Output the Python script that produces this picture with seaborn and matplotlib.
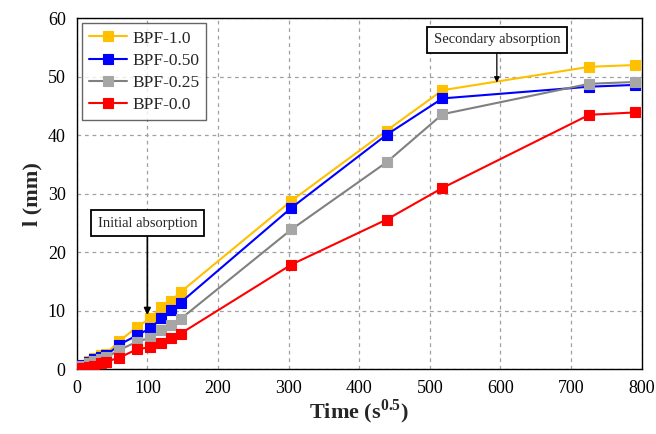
import matplotlib
matplotlib.use("Agg")
import matplotlib.pyplot as plt
import seaborn as sns
import pandas as pd

# Square-root time (s^0.5) at each reading
time_sqrt = [0, 8, 17, 24, 35, 42, 60, 85, 104, 120, 134, 147, 304, 439, 518, 726, 790]

# Absorption depth l (mm) per mix
bpf_100 = [0, 0.8, 1.4, 1.9, 2.4, 2.7, 4.8, 7.2, 8.7, 10.6, 11.7, 13.2, 28.8, 40.8, 47.7, 51.7, 52.0]
bpf_050 = [0, 0.7, 1.3, 1.75, 2.15, 2.4, 4.2, 5.8, 7.0, 8.7, 10.1, 11.4, 27.6, 40.1, 46.3, 48.3, 48.6]
bpf_025 = [0, 0.6, 1.1, 1.5, 1.8, 2.05, 3.3, 4.7, 5.4, 6.7, 7.5, 8.6, 23.9, 35.4, 43.6, 48.8, 49.1]
bpf_000 = [0, 0.2, 0.4, 0.6, 1.0, 1.3, 2.0, 3.4, 3.8, 4.5, 5.4, 6.1, 17.9, 25.6, 31.0, 43.5, 43.9]

series_names = ["BPF-1.0", "BPF-0.50", "BPF-0.25", "BPF-0.0"]
series_values = [bpf_100, bpf_050, bpf_025, bpf_000]
line_colors = ["#FFC000", "#0000FF", "#808080", "#FF0000"]
face_colors = ["#FFC000", "#0000FF", "#A6A6A6", "#FF0000"]

x_ticks = [0, 100, 200, 300, 400, 500, 600, 700, 800]
y_ticks = [0, 10, 20, 30, 40, 50, 60]

sns.set_style("white")
plt.rcParams["font.family"] = ["Liberation Serif", "DejaVu Serif"]
plt.rcParams["mathtext.fontset"] = "custom"
plt.rcParams["mathtext.rm"] = "Liberation Serif"
plt.rcParams["mathtext.bf"] = "Liberation Serif:bold"

fig = plt.figure(figsize=(6.56, 4.34), dpi=100)
ax = fig.add_axes([0.117, 0.149, 0.861, 0.809])

for name, vals, lc, fc in zip(series_names, series_values, line_colors, face_colors):
    df = pd.DataFrame({"t": time_sqrt, "l": vals})
    sns.lineplot(data=df, x="t", y="l", ax=ax, color=lc, linewidth=1.5,
                 marker="s", markersize=7, markerfacecolor=fc,
                 markeredgecolor=fc, markeredgewidth=0.8, label=name,
                 zorder=3)

ax.set_xlim(0, 800)
ax.set_ylim(0, 60)
ax.set_xticks(x_ticks)
ax.set_yticks(y_ticks)
ax.grid(True, linestyle=(0, (3, 3)), color="#A0A0A0", linewidth=0.9)
ax.tick_params(axis="both", direction="inout", length=8, width=1.0,
               labelsize=13, colors="black", pad=4)

for side in ["left", "bottom", "top", "right"]:
    ax.spines[side].set_visible(True)
    ax.spines[side].set_color("black")
    ax.spines[side].set_linewidth(1.0)

ax.set_xlabel(r"Time (s$^{\mathbf{0.5}}$)", fontsize=16, fontweight="bold", labelpad=0)
ax.set_ylabel("l (mm)", fontsize=16, fontweight="bold", labelpad=4)

leg = ax.legend(loc="upper left", fontsize=12.5, frameon=True, fancybox=False,
                edgecolor="#404040", borderaxespad=0.3, handlelength=2.2,
                handletextpad=0.3, labelspacing=0.35, borderpad=0.4)
leg.get_frame().set_linewidth(1.0)

box = dict(boxstyle="square,pad=0.45", facecolor="white", edgecolor="black", linewidth=1.3)
ax.annotate("Initial absorption", xy=(100, 9.3), xytext=(100, 25),
            fontsize=10.5, ha="center", va="center", bbox=box,
            arrowprops=dict(arrowstyle="-|>", color="black", linewidth=1.2,
                            mutation_scale=10, shrinkA=0, shrinkB=0), zorder=5)
ax.annotate("Secondary absorption", xy=(595, 49.0), xytext=(595, 56.3),
            fontsize=10.5, ha="center", va="center", bbox=box,
            arrowprops=dict(arrowstyle="-|>", color="black", linewidth=0.9,
                            mutation_scale=8, shrinkA=0, shrinkB=0), zorder=5)

fig.savefig("out.png", dpi=100)
